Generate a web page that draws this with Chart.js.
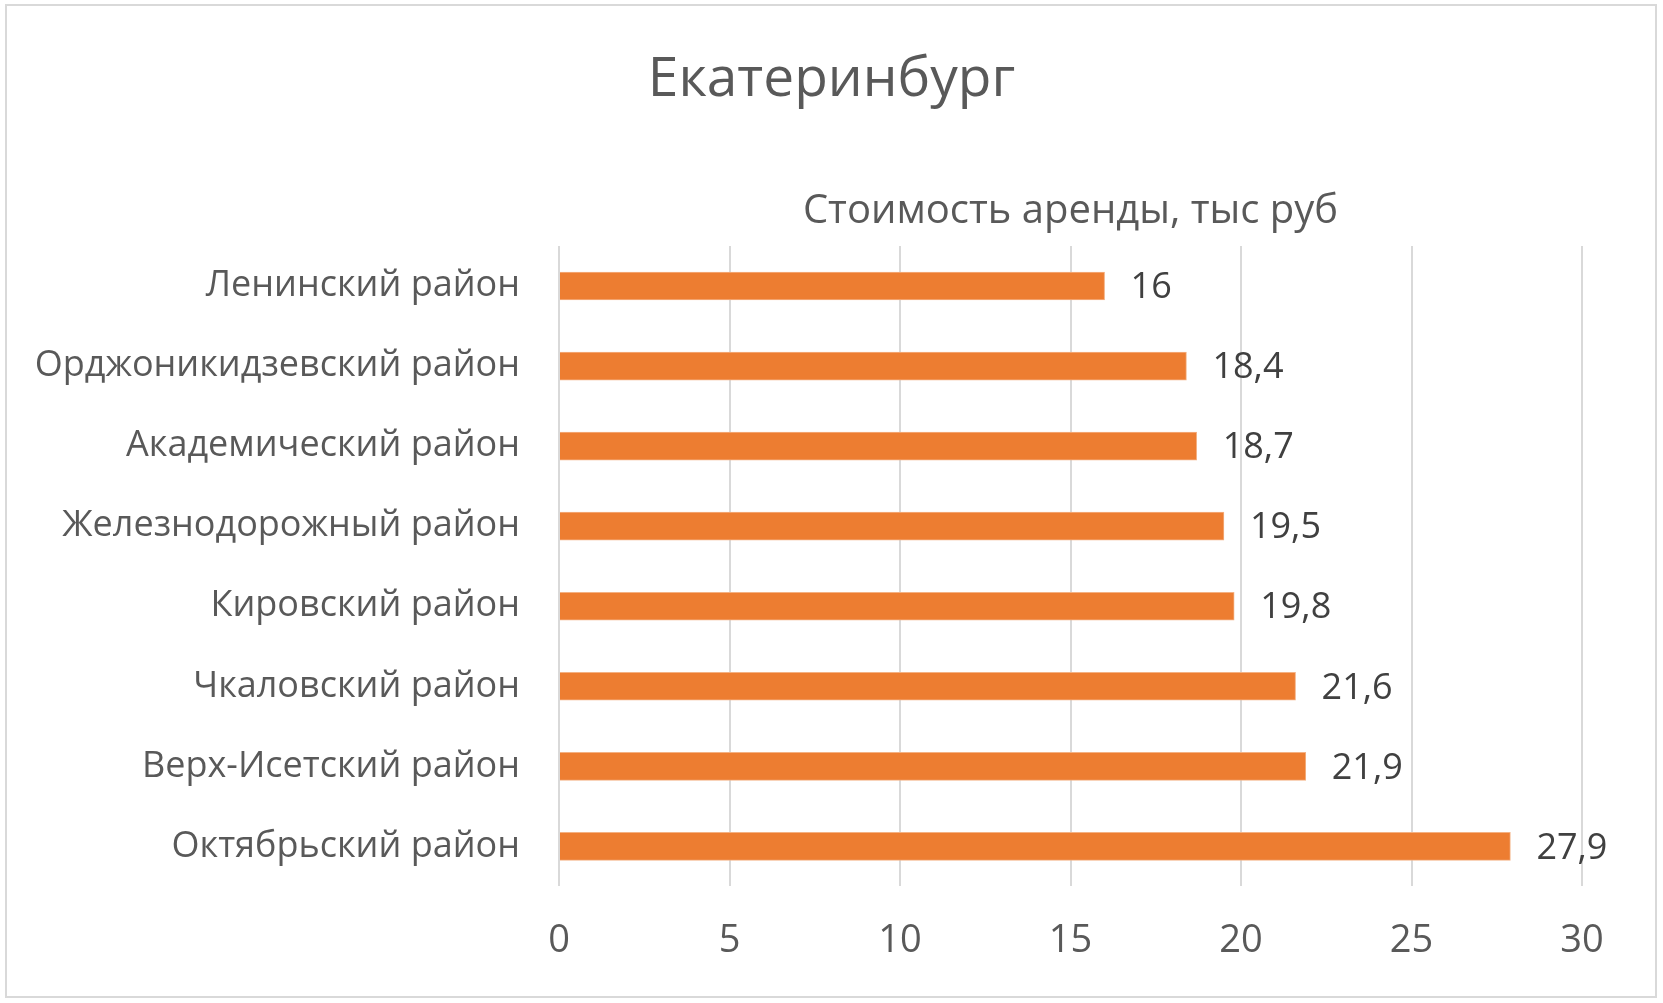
<!DOCTYPE html>
<html>
<head>
<meta charset="utf-8">
<script src="https://cdn.jsdelivr.net/npm/chart.js@4.4.1/dist/chart.umd.min.js"></script>
<style>
  html, body { margin: 0; padding: 0; background: #fff; }
  #wrap { position: relative; width: 1663px; height: 1003px; }
  #frame { position: absolute; left: 5px; top: 4px; width: 1648px; height: 990px;
           border: 2px solid #d9d9d9; pointer-events: none; }
</style>
</head>
<body>
<div id="wrap">
  <canvas id="chart" width="1663" height="1003"></canvas>
  <div id="frame"></div>
</div>
<script>
const FONT = "'Open Sans', sans-serif";

// Data
const districts = [
    'Ленинский район',
    'Орджоникидзевский район',
    'Академический район',
    'Железнодорожный район',
    'Кировский район',
    'Чкаловский район',
    'Верх-Исетский район',
    'Октябрьский район'
];
const rentValues = [16, 18.4, 18.7, 19.5, 19.8, 21.6, 21.9, 27.9];
const xTicks = [0, 5, 10, 15, 20, 25, 30];

const chartTitle = 'Екатеринбург';
const seriesName = 'Стоимость аренды, тыс руб';

// value labels next to bar ends, comma decimal
const valueLabels = {
    id: 'valueLabels',
    afterDatasetsDraw(chart) {
        const c = chart.ctx;
        const meta = chart.getDatasetMeta(0);
        c.save();
        c.font = "36px " + FONT;
        c.fillStyle = '#404040';
        c.textAlign = 'left';
        c.textBaseline = 'middle';
        meta.data.forEach((bar, i) => {
            const txt = String(rentValues[i]).replace('.', ',');
            c.fillText(txt, bar.x + 26, bar.y + 2);
        });
        c.restore();
    }
};

const ctx = document.getElementById('chart').getContext('2d');
new Chart(ctx, {
    type: 'bar',
    data: {
        labels: districts,
        datasets: [{
            label: seriesName,
            data: rentValues,
            backgroundColor: '#ED7D31',
            borderColor: '#F4B183',
            borderWidth: 1,
            barThickness: 28
        }]
    },
    options: {
        indexAxis: 'y',
        responsive: false,
        animation: false,
        layout: { padding: { left: 0, right: 0, top: 47, bottom: 7 } },
        scales: {
            x: {
                min: 0,
                max: 30,
                afterBuildTicks: s => { s.ticks = xTicks.map(v => ({ value: v })); },
                grid: { color: '#d9d9d9', lineWidth: 2, drawTicks: false },
                border: { display: false },
                ticks: { color: '#595959', font: { family: FONT, size: 38 }, padding: 32 }
            },
            xTop: {
                type: 'linear',
                position: 'top',
                axis: 'x',
                min: 0,
                max: 30,
                grid: { display: false, drawTicks: false },
                border: { display: false },
                ticks: { display: false },
                title: {
                    display: true,
                    text: seriesName,
                    color: '#595959',
                    font: { family: FONT, size: 40 },
                    padding: { top: 5, bottom: 10 }
                }
            },
            y: {
                afterFit: s => { s.width = 559; },
                grid: { display: false, drawTicks: false },
                border: { display: false },
                ticks: { color: '#595959', font: { family: FONT, size: 36 }, padding: 39 }
            },
            // empty right gutter so the title stays centred on the canvas
            yRight: {
                type: 'linear',
                position: 'right',
                axis: 'y',
                grid: { display: false, drawTicks: false },
                border: { display: false },
                ticks: { display: false },
                afterFit: s => { s.width = 81; }
            }
        },
        plugins: {
            legend: { display: false },
            tooltip: { enabled: false },
            title: {
                display: true,
                text: chartTitle,
                color: '#595959',
                font: { family: FONT, size: 55, weight: 'normal' },
                padding: { top: 0, bottom: 70 }
            }
        }
    },
    plugins: [valueLabels]
});
</script>
</body>
</html>
